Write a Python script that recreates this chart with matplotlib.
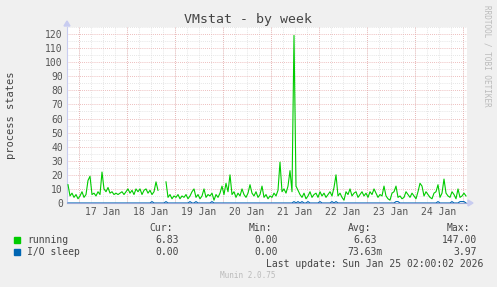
import numpy as np
import matplotlib
matplotlib.use("Agg")
import matplotlib.pyplot as plt

# ---- data (hourly samples, hours since Jan 16 18:00) ----
running = [13, 5, 7, 4, 6, 3, 5, 8, 4, 6,
           16, 19, 6, 7, 5, 8, 6, 22, 10, 8,
           11, 7, 8, 6, 7, 6, 7, 8, 6, 8,
           10, 7, 9, 6, 10, 8, 10, 6, 9, 10,
           7, 9, 6, 8, 15, 9, np.nan, np.nan, np.nan, 15,
           4, 6, 3, 5, 4, 6, 3, 5, 4, 6,
           3, 5, 8, 10, 4, 6, 3, 5, 10, 4,
           6, 5, 7, 2, 6, 4, 7, 12, 6, 14,
           8, 20, 6, 8, 4, 7, 5, 10, 6, 4,
           7, 13, 7, 5, 8, 4, 6, 12, 4, 6,
           3, 5, 4, 7, 5, 9, 29, 8, 10, 7,
           12, 23, 8, 119, 12, 9, 6, 4, 7, 3,
           5, 8, 4, 6, 7, 4, 8, 5, 7, 4,
           6, 8, 5, 11, 20, 5, 7, 4, 2, 8,
           6, 10, 5, 7, 8, 4, 6, 8, 5, 7,
           4, 8, 6, 10, 7, 4, 6, 5, 12, 5,
           3, 2, 7, 8, 12, 4, 5, 3, 4, 8,
           6, 4, 7, 5, 3, 8, 14, 12, 5, 8,
           6, 4, 3, 7, 8, 13, 4, 7, 17, 7,
           5, 4, 8, 6, 3, 10, 4, 5, 7, 5]
io_sleep_hours = [42, 49, 61, 64, 72, 113, 115, 117, 120, 126, 132, 134,
                  164, 165, 185, 192, 196, 197, 198]
io_sleep_level = [1, 1, 1, 1, 1, 1, 1, 1, 1, 1, 1, 1,
                  1, 1, 1, 1, 1, 1, 1]

day_labels = ["17 Jan", "18 Jan", "19 Jan", "20 Jan", "21 Jan", "22 Jan", "23 Jan", "24 Jan"]
y_ticks = list(range(0, 121, 10))

legend_names = ["running", "I/O sleep"]
legend_colors = ["#00CC00", "#0066B3"]
stats_cur = ["6.83", "0.00"]
stats_min = ["0.00", "0.00"]
stats_avg = ["6.63", "73.63m"]
stats_max = ["147.00", "3.97"]

# ---- figure ----
W, H = 497, 287
fig = plt.figure(figsize=(W / 100, H / 100), dpi=100, facecolor="#F0F0F0")
L, R, T, B = 67, 467, 27, 203
ax = fig.add_axes([L / W, 1 - B / H, (R - L) / W, (B - T) / H])
ax.set_facecolor("white")

hours = np.arange(len(running))
io = np.zeros(len(running))
for h, v in zip(io_sleep_hours, io_sleep_level):
    io[h] = v

ax.set_xlim(0, 200)
ax.set_ylim(0, 125)

# grids
for y in np.arange(5, 126, 10):
    ax.axhline(y, color="#DDDDDD", lw=0.6, ls=(0, (1, 1.5)), zorder=0)
for y in range(10, 126, 10):
    ax.axhline(y, color="#E8A8A8", lw=0.6, ls=(0, (1, 1.5)), zorder=0.5)
for x in np.arange(0, 201, 6):
    ax.axvline(x, color="#DDDDDD", lw=0.6, ls=(0, (1, 1.5)), zorder=0)
for k in range(9):
    ax.axvline(6 + 24 * k, color="#E8A8A8", lw=0.6, ls=(0, (1, 1.5)), zorder=0.5)

ax.plot(hours + 0.5, running, color=legend_colors[0], lw=0.8, zorder=3)
ax.plot(hours + 0.5, io, color=legend_colors[1], lw=0.8, zorder=4)

ax.set_yticks(y_ticks)
ax.set_yticklabels([str(v) for v in y_ticks])
ax.set_xticks([18 + 24 * k for k in range(len(day_labels))])
ax.set_xticklabels(day_labels)
mono = "DejaVu Sans Mono"
ax.tick_params(axis="both", length=0, labelsize=7, labelcolor="#555555", pad=3)
for lab in ax.get_xticklabels() + ax.get_yticklabels():
    lab.set_fontfamily(mono)

for s in ["top", "right"]:
    ax.spines[s].set_visible(False)
ax.spines["left"].set_color("#C8CCF0")
ax.spines["bottom"].set_color("#9AA8D8")
ax.spines["left"].set_linewidth(0.8)
ax.spines["bottom"].set_linewidth(0.8)

# axis arrows
fig.patches.append(plt.Polygon([[(L - 3) / W, 1 - (T - 1) / H], [(L + 3) / W, 1 - (T - 1) / H], [L / W, 1 - (T - 6) / H]],
                               closed=True, transform=fig.transFigure, color="#C8CCF0"))
fig.patches.append(plt.Polygon([[(R + 1) / W, 1 - (B - 3) / H], [(R + 1) / W, 1 - (B + 3) / H], [(R + 6) / W, 1 - B / H]],
                               closed=True, transform=fig.transFigure, color="#C8CCF0"))

def ftext(x, y, s, **kw):
    fig.text(x / W, 1 - y / H, s, fontfamily=mono, **kw)

ftext(248, 19, "VMstat - by week", fontsize=9.5, color="#444444", ha="center", va="center")
ftext(11, 115, "process states", fontsize=7.5, color="#444444", ha="center", va="center", rotation=90)
ftext(487, 5, "RRDTOOL / TOBI OETIKER", fontsize=5.5, color="#BBBBBB", ha="center", va="top", rotation=270)

fs = 7
tc = "#444444"
ftext(173, 228, "Cur:", fontsize=fs, color=tc, ha="right", va="center")
ftext(272, 228, "Min:", fontsize=fs, color=tc, ha="right", va="center")
ftext(371, 228, "Avg:", fontsize=fs, color=tc, ha="right", va="center")
ftext(470, 228, "Max:", fontsize=fs, color=tc, ha="right", va="center")
for i, name in enumerate(legend_names):
    y = 240 + 12 * i
    fig.patches.append(plt.Rectangle((14 / W, 1 - (y + 3) / H), 6 / W, 6 / H,
                                     transform=fig.transFigure, color=legend_colors[i]))
    ftext(27, y, name, fontsize=fs, color=tc, ha="left", va="center")
    ftext(179, y, stats_cur[i], fontsize=fs, color=tc, ha="right", va="center")
    ftext(278, y, stats_min[i], fontsize=fs, color=tc, ha="right", va="center")
    avg = stats_avg[i]
    ftext(383 if avg.endswith("m") else 377, y, avg, fontsize=fs, color=tc, ha="right", va="center")
    ftext(477, y, stats_max[i], fontsize=fs, color=tc, ha="right", va="center")
ftext(483, 264, "Last update: Sun Jan 25 02:00:02 2026", fontsize=fs, color=tc, ha="right", va="center")
ftext(248, 276, "Munin 2.0.75", fontsize=5.5, color="#BBBBBB", ha="center", va="center")

fig.savefig("out.png", dpi=100, facecolor=fig.get_facecolor())
